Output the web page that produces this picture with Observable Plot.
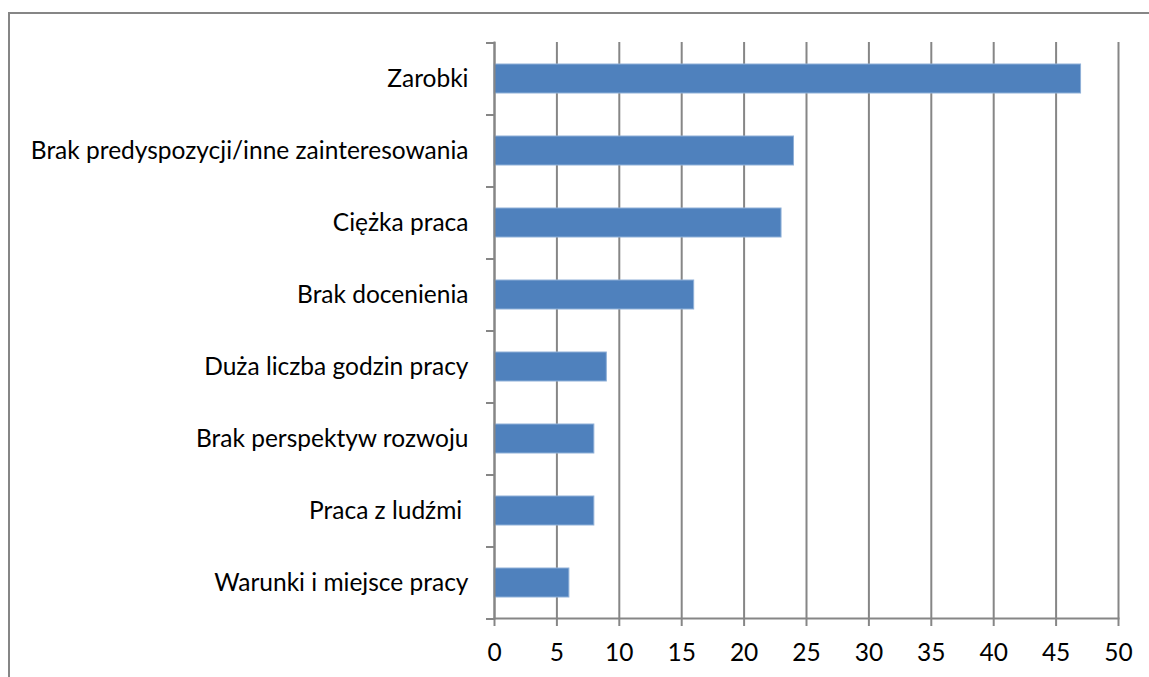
<!DOCTYPE html>
<html>
<head>
<meta charset="utf-8">
<script src="https://cdn.jsdelivr.net/npm/d3@7"></script>
<script src="https://cdn.jsdelivr.net/npm/@observablehq/plot@0.6"></script>
<style>
  html, body { margin: 0; padding: 0; background: #fff; overflow: hidden; }
  #wrap { position: relative; width: 1149px; height: 677px; }
  #border { position: absolute; left: 8px; top: 12px; width: 1200px; height: 700px;
            border-top: 2px solid #868686; border-left: 2px solid #868686; box-sizing: border-box; }
  #chart { position: absolute; left: 0; top: 0; }
</style>
</head>
<body>
<div id="wrap"><div id="border"></div><div id="chart"></div></div>
<script>
const categories = [
  "Zarobki",
  "Brak predyspozycji/inne zainteresowania",
  "Ciężka praca",
  "Brak docenienia",
  "Duża liczba godzin pracy",
  "Brak perspektyw rozwoju",
  "Praca z ludźmi ",
  "Warunki i miejsce pracy"
];
const values = [47, 24, 23, 16, 9, 8, 8, 6];
const xTicks = [0, 5, 10, 15, 20, 25, 30, 35, 40, 45, 50];

const data = categories.map((c, i) => ({category: c, value: values[i]}));
const gray = "#868686";
const font = "Lato, 'Open Sans', sans-serif";

const chart = Plot.plot({
  width: 1149,
  height: 677,
  marginLeft: 494,
  marginRight: 31,
  marginTop: 42,
  marginBottom: 59,
  style: {fontFamily: font, fontSize: "24.5px", color: "#000", background: "transparent"},
  x: {domain: [0, 50], ticks: xTicks},
  y: {domain: categories, paddingInner: 0.6, paddingOuter: 0.3, align: 0.5},
  marks: [
    Plot.gridX(xTicks, {stroke: gray, strokeOpacity: 1, strokeWidth: 2}),
    Plot.barX(data, {x: "value", y: "category", fill: "#4F81BD", stroke: "#8fb0d8", strokeWidth: 1}),
    Plot.axisX(xTicks, {anchor: "bottom", tickSize: 8, stroke: gray, strokeWidth: 2, tickPadding: 17,
      fill: "#000", fontSize: 24.5, label: null, tickFormat: d => String(d)}),
    Plot.axisY({anchor: "left", tickSize: 0, tickPadding: 26, fill: "#000", fontSize: 24.5, label: null}),
    Plot.axisY({anchor: "left", tickSize: 8, text: null, dy: -36, stroke: gray, strokeWidth: 2, label: null}),
    Plot.axisY({anchor: "left", tickSize: 8, text: null, dy: 36, stroke: gray, strokeWidth: 2, label: null}),
    Plot.frame({anchor: "left", stroke: gray, strokeWidth: 2}),
    Plot.frame({anchor: "bottom", stroke: gray, strokeWidth: 2})
  ]
});
document.getElementById("chart").appendChild(chart);
</script>
</body>
</html>
